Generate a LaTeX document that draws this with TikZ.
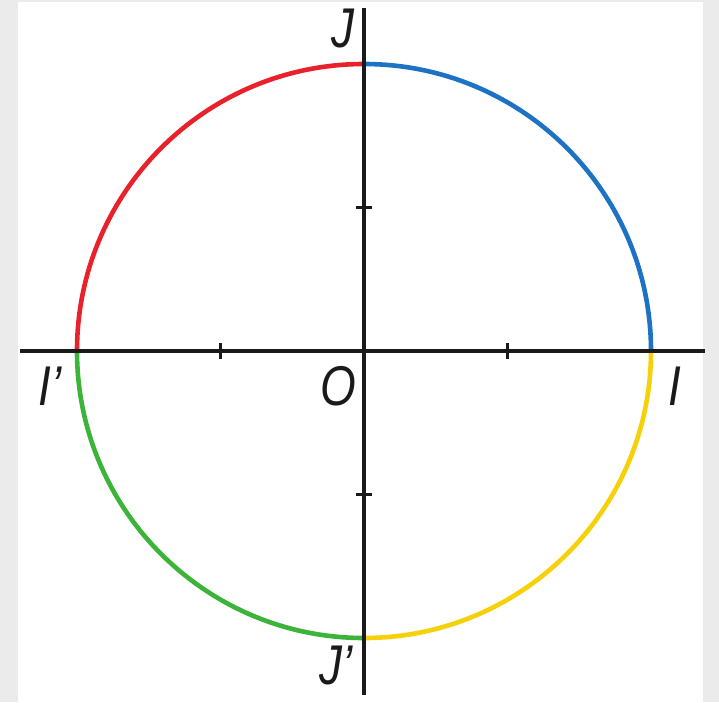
\documentclass[tikz,border=0pt]{standalone}
\usepackage{fontspec}
\setmainfont{Liberation Sans}
\definecolor{bggray}{HTML}{EBEBEB}
\definecolor{cred}{HTML}{E8212B}
\definecolor{cblue}{HTML}{1E72C3}
\definecolor{cgreen}{HTML}{3CB43A}
\definecolor{cyellow}{HTML}{F6D10A}
\definecolor{axis}{HTML}{1A1A1A}
\begin{document}
\begin{tikzpicture}[x=1pt,y=-1pt,
  axisline/.style={draw=axis,line width=3.2pt},
  tickline/.style={draw=axis,line width=3pt},
  arcline/.style={line width=4.6pt},
  lbl/.style={font=\itshape\fontsize{56}{60}\selectfont,text=axis,anchor=base,inner sep=0pt,xscale=0.82}]
\fill[bggray] (0,0) rectangle (719,702);
\fill[white] (18,2) rectangle (703,702);
\useasboundingbox (0,0) rectangle (719,702);
\coordinate (O) at (364,351);
\coordinate (I) at (651,351);
\coordinate (Ip) at (77,351);
\coordinate (J) at (364,64);
\coordinate (Jp) at (364,638);
\coordinate (xl) at (20,351);
\coordinate (xr) at (705,351);
\coordinate (yt) at (364,8);
\coordinate (yb) at (364,695);
% arcs
\draw[arcline,cblue] (I) arc[start angle=0,end angle=-90,radius=287];
\draw[arcline,cred] (J) arc[start angle=-90,end angle=-180,radius=287];
\draw[arcline,cgreen] (Ip) arc[start angle=180,end angle=90,radius=287];
\draw[arcline,cyellow] (Jp) arc[start angle=90,end angle=0,radius=287];
% axes
\draw[axisline] (xl) -- (xr);
\draw[axisline] (yt) -- (yb);
% ticks
\foreach \x in {220,507} \draw[tickline] (\x,343) -- (\x,359);
\foreach \y in {207,494} \draw[tickline] (356,\y) -- (372,\y);
% labels
\node[lbl,transform shape] (lJ) at (343,47) {J};
\node[lbl,transform shape] (lJp) at (336,684) {J’};
\node[lbl,transform shape] (lIp) at (50,405) {I’};
\node[lbl,transform shape] (lI) at (675,405) {I};
\node[lbl,transform shape] (lO) at (338,405) {O};
\end{tikzpicture}
\end{document}
